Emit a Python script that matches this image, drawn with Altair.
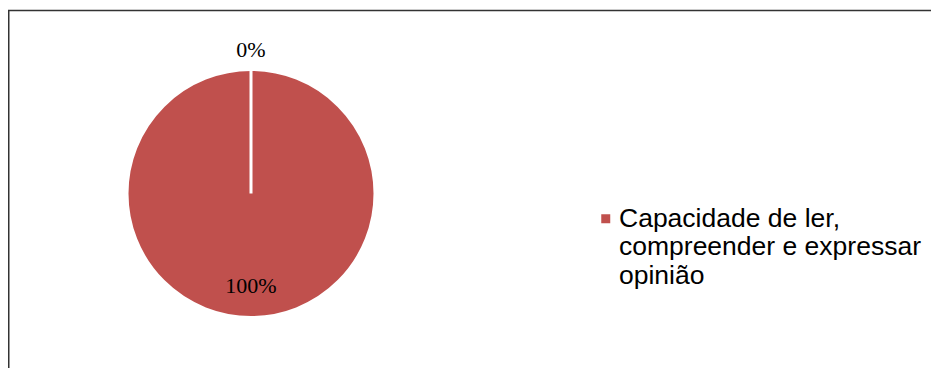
import altair as alt
import pandas as pd

# ---- data ----
legend_lines = ["Capacidade de ler,", "compreender e expressar", "opinião"]
categories = ["\n".join(legend_lines), "Outras respostas"]
values = [100, 0]
labels = ["100%", "0%"]

df = pd.DataFrame({"categoria": categories, "valor": values, "rotulo": labels})

RED = "#C0504D"

base = alt.Chart(df).encode(
    theta=alt.Theta("valor:Q", stack=True),
)

pie = base.mark_arc(outerRadius=124, stroke="white", strokeWidth=3).encode(
    color=alt.Color(
        "categoria:N",
        scale=alt.Scale(domain=categories, range=[RED, RED]),
        legend=alt.Legend(
            title=None,
            values=[categories[0]],
            orient="none",
            legendX=584.5,
            legendY=186.5,
            padding=0,
            symbolType="square",
            symbolSize=81,
            symbolStrokeWidth=0,
            symbolOpacity=1,
            labelFont="Liberation Sans",
            labelFontSize=26.5,
            labelColor="black",
            labelOffset=0,
            labelLimit=0,
            labelExpr="split(datum.label, '\\n')",
        ),
    ),
)

label_top = base.mark_text(
    radius=144, font="Liberation Serif", fontSize=22, color="black", baseline="middle"
).encode(
    text="rotulo:N",
    detail="categoria:N",
    opacity=alt.condition("datum.valor == 0", alt.value(1), alt.value(0)),
)

label_in = base.mark_text(
    radius=92, font="Liberation Serif", fontSize=22, color="black", baseline="middle"
).encode(
    text="rotulo:N",
    detail="categoria:N",
    opacity=alt.condition("datum.valor > 0", alt.value(1), alt.value(0)),
)

frame_df = pd.DataFrame({"b": [0]})
top_rule = alt.Chart(frame_df).mark_rule(color="#333333", strokeWidth=1.5).encode(
    x=alt.value(0), x2=alt.value(923), y=alt.value(-8.5)
)
left_rule = alt.Chart(frame_df).mark_rule(color="#333333", strokeWidth=1.5).encode(
    x=alt.value(0.75), y=alt.value(-8.5), y2=alt.value(349)
)

chart = (
    alt.layer(pie, label_top, label_in, top_rule, left_rule)
    .properties(
        width=486,
        height=349,
        background="white",
        autosize=alt.AutoSizeParams(type="none"),
        padding={"left": 0, "top": 11, "right": 437, "bottom": 0},
    )
    .configure_view(stroke="transparent", strokeWidth=0)
)

chart.save("out.html", embed_options={"renderer": "svg", "actions": False})
